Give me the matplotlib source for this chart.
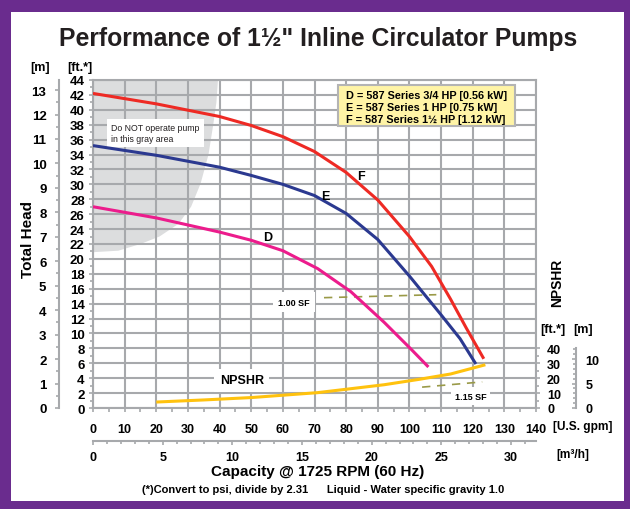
import matplotlib
matplotlib.use("Agg")
import matplotlib.pyplot as plt
from matplotlib.patches import Rectangle, Polygon
from matplotlib.ticker import MultipleLocator

# ── Data ────────────────────────────────────────────────────
F_GPM = [0, 20, 40, 50, 60, 70, 80, 90, 100, 107, 113, 118, 123.5]
F_FT = [42.2, 40.8, 39.1, 37.9, 36.4, 34.4, 31.6, 27.9, 23.0, 19.0, 14.6, 10.7, 6.6]

E_GPM = [0, 20, 40, 50, 60, 70, 80, 90, 100, 110, 116, 121]
E_FT = [35.2, 33.9, 32.3, 31.2, 30.0, 28.5, 26.1, 22.6, 17.7, 12.5, 9.3, 5.9]

D_GPM = [0, 20, 40, 50, 60, 71, 81.5, 92, 100.5, 106]
D_FT = [27.0, 25.5, 23.6, 22.5, 21.1, 18.7, 15.6, 11.5, 7.9, 5.5]

NPSHR_GPM = [20, 35, 50, 71, 92, 103, 113, 124]
NPSHR_FT = [4.0, 5.4, 7.0, 10.3, 15.6, 19.2, 22.8, 29.0]

SF100_GPM = [73, 108.5]
SF100_FT = [14.8, 15.2]
SF115_GPM = [104, 123]
SF115_FT = [2.8, 3.5]

# boundary of the "do not operate" zone
GRAY_GPM = [0, 8, 15, 21, 27, 31, 34, 36.5, 38, 39, 39.5]
GRAY_FT = [20.9, 21.1, 22.0, 23.0, 24.7, 27.0, 30.1, 34.0, 38.0, 41.0, 44.0]

LEGEND_LINES = ["D = 587 Series 3/4 HP [0.56 kW]",
                "E = 587 Series 1 HP [0.75 kW]",
                "F = 587 Series 1\u00bd HP [1.12 kW]"]

FT_PER_M = 3.28084
GPM_PER_M3H = 4.40287

GRID = "#A7A9AC"
plt.rcParams["font.family"] = ["Liberation Sans", "DejaVu Sans"]
plt.rcParams["font.weight"] = "bold"

fig = plt.figure(figsize=(6.3, 5.1), dpi=100)
fig.patch.set_facecolor("#6A2C8E")
fig.add_artist(Rectangle((11 / 630, 8 / 510), 613 / 630, 489 / 510,
                         transform=fig.transFigure, facecolor="white",
                         edgecolor="none", zorder=-10))

W, H = 630, 510
x0, x1, y0, y1 = 93, 536, 409, 81
ax = fig.add_axes([x0 / W, 1 - y0 / H, (x1 - x0) / W, (y0 - y1) / H])
ax.set_xlim(0, 140)
ax.set_ylim(0, 44)

# gray zone
pts = [(0, 44)] + list(zip(GRAY_GPM, GRAY_FT))
ax.add_patch(Polygon(pts, closed=True, facecolor="#DCDDDE", edgecolor="none", zorder=0.2))

ax.set_xticks(range(0, 141, 10))
ax.set_yticks(range(0, 45, 2))
ax.xaxis.set_minor_locator(MultipleLocator(5))
ax.yaxis.set_minor_locator(MultipleLocator(1))
ax.grid(True, color=GRID, linewidth=1.5)
ax.set_axisbelow(True)
for s in ax.spines.values():
    s.set_color(GRID)
    s.set_linewidth(1.5)
ax.tick_params(axis="both", which="both", color=GRID, width=1.2)
ax.tick_params(axis="y", which="major", length=3, pad=3, labelsize=9.5)
ax.tick_params(axis="y", which="minor", length=2)
ax.tick_params(axis="x", which="major", length=3, pad=8, labelsize=9)
ax.tick_params(axis="x", which="minor", length=3)

# pump curves
ax.plot(F_GPM, F_FT, color="#EE2A24", lw=2.2, zorder=4, solid_capstyle="butt")
ax.plot(E_GPM, E_FT, color="#2B3990", lw=2.2, zorder=4, solid_capstyle="butt")
ax.plot(D_GPM, D_FT, color="#EC1C8C", lw=2.2, zorder=4, solid_capstyle="butt")
ax.plot(SF100_GPM, SF100_FT, color="#9A9A48", lw=1.2, ls=(0, (5, 4)), zorder=3)
ax.plot(SF115_GPM, SF115_FT, color="#9A9A48", lw=1.2, ls=(0, (5, 4)), zorder=3)

ax.text(84.6, 31.1, "F", fontsize=9, ha="center", va="center", zorder=5)
ax.text(73.5, 28.5, "E", fontsize=9, ha="center", va="center", zorder=5)
ax.text(55.3, 23.0, "D", fontsize=9, ha="center", va="center", zorder=5)

box = dict(facecolor="white", edgecolor="none", pad=3)
ax.text(47, 3.7, "NPSHR", fontsize=9, ha="center", va="center", bbox=dict(box, pad=4), zorder=3)
ax.text(63.5, 14.2, "1.00 SF", fontsize=6.5, ha="center", va="center", bbox=dict(box, pad=4), zorder=3)
ax.text(119.3, 1.6, "1.15 SF", fontsize=6.5, ha="center", va="center", bbox=box, zorder=3)
ax.text(5.8, 36.9, "Do NOT operate pump\nin this gray area", fontsize=6.3,
        fontweight="normal", color="#231F20", ha="left", va="center",
        linespacing=1.25, bbox=dict(facecolor="white", edgecolor="none", pad=3), zorder=3)

# left meter axis
m_ax = ax.secondary_yaxis(-0.077, functions=(lambda f: f / FT_PER_M, lambda m: m * FT_PER_M))
m_ax.set_yticks(range(0, 14))
m_ax.yaxis.set_minor_locator(MultipleLocator(0.5))
m_ax.spines["left"].set_color(GRID)
m_ax.spines["left"].set_linewidth(1.5)
m_ax.tick_params(which="both", color=GRID, width=1.2, labelsize=9.5)
m_ax.tick_params(which="major", length=3, pad=6)
m_ax.tick_params(which="minor", length=2)

# bottom m3/h axis
q_ax = ax.secondary_xaxis(-0.1006, functions=(lambda g: g / GPM_PER_M3H, lambda q: q * GPM_PER_M3H))
q_ax.set_xticks(range(0, 31, 5))
q_ax.xaxis.set_minor_locator(MultipleLocator(1))
q_ax.spines["bottom"].set_color(GRID)
q_ax.spines["bottom"].set_linewidth(1.5)
q_ax.tick_params(which="both", color=GRID, width=1.2, labelsize=9)
q_ax.tick_params(which="major", length=3, pad=4)
q_ax.tick_params(which="minor", length=2)

# NPSHR axes (right side)
ax_n = ax.twinx()
for s in ax_n.spines.values():
    s.set_visible(False)
ax_n.plot(NPSHR_GPM, NPSHR_FT, color="#FFC20E", lw=2.2, zorder=4, solid_capstyle="butt")
ax_n.set_ylim(0, 44 * 5)
ax_n.set_yticks(range(0, 41, 10))
ax_n.set_yticks([t for t in range(5, 41, 5) if t % 10], minor=True)
ax_n.tick_params(which="both", color=GRID, width=1.2, labelsize=9)
ax_n.tick_params(which="major", length=3, pad=5)
ax_n.tick_params(which="minor", length=2)

nm_ax = ax_n.secondary_yaxis(1.09, functions=(lambda f: f / FT_PER_M, lambda m: m * FT_PER_M))
nm_ax.set_yticks([0, 5, 10])
nm_ax.set_yticks([t for t in range(1, 13) if t % 5], minor=True)
nm_ax.spines["right"].set_color(GRID)
nm_ax.spines["right"].set_linewidth(1.5)
nm_ax.spines["right"].set_bounds(0, 40 / FT_PER_M)
nm_ax.tick_params(which="both", direction="in", color=GRID, width=1.2, labelsize=9)
nm_ax.tick_params(which="major", length=3, pad=7)
nm_ax.tick_params(which="minor", length=2)

# legend box
fig.add_artist(Rectangle((338 / W, 1 - 127 / H), 177 / W, 41 / H, transform=fig.transFigure,
                         facecolor="#FFF4A6", edgecolor="#B4B4B4", lw=1.5, zorder=6))
for i, line in enumerate(LEGEND_LINES):
    fig.text(346 / W, 1 - (96 + 12 * i) / H, line, fontsize=7.8, ha="left", va="center", zorder=7)

# titles and labels
fig.text(318 / W, 1 - 39 / H, "Performance of 1\u00bd\" Inline Circulator Pumps",
         fontsize=17.8, ha="center", va="center", color="#231F20")
fig.text(40 / W, 1 - 68 / H, "[m]", fontsize=9, ha="center", va="center")
fig.text(80 / W, 1 - 68 / H, "[ft.*]", fontsize=9, ha="center", va="center")
fig.text(28 / W, 1 - 240 / H, "Total Head", fontsize=11, rotation=90, ha="center", va="center")
fig.text(557 / W, 1 - 283 / H, "NPSHR", fontsize=10, rotation=90, ha="center", va="center")
fig.text(553 / W, 1 - 330 / H, "[ft.*]", fontsize=9, ha="center", va="center")
fig.text(583 / W, 1 - 330 / H, "[m]", fontsize=9, ha="center", va="center")
fig.text(553 / W, 1 - 427 / H, "[U.S. gpm]", fontsize=8.6, ha="left", va="center")
fig.text(556 / W, 1 - 455 / H, "[m\u00b3/h]", fontsize=8.6, ha="left", va="center")
fig.text(318 / W, 1 - 472 / H, "Capacity @ 1725 RPM (60 Hz)", fontsize=11, ha="center", va="center")
fig.text(323 / W, 1 - 490 / H,
         "(*)Convert to psi, divide by 2.31      Liquid - Water specific gravity 1.0",
         fontsize=8, ha="center", va="center")

fig.savefig("out.png", dpi=100)
